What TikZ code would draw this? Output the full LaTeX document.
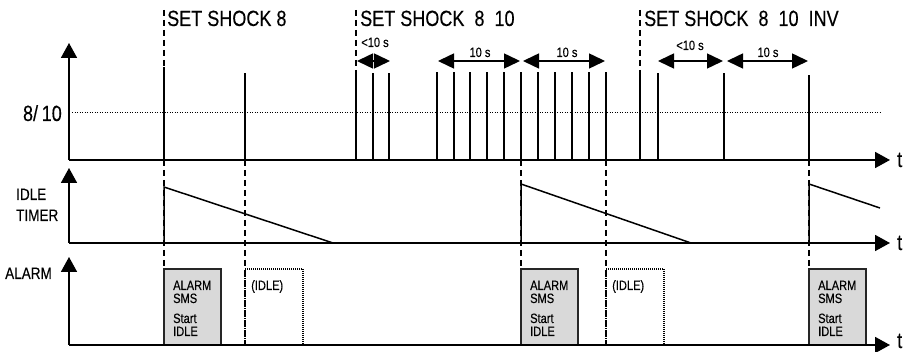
\documentclass[tikz,border=0pt]{standalone}
\usepackage{fontspec}
\setmainfont{Liberation Sans}[FakeStretch=0.82,FakeBold=0.3]
\usetikzlibrary{arrows.meta}
\tikzset{
  axis/.style={line width=1.8pt,-{Triangle[length=15pt,width=16pt]}},
  pulse/.style={line width=1.5pt},
  evt/.style={line width=1.3pt,dash pattern=on 6pt off 4pt},
  span/.style={line width=1.5pt,{Triangle[length=16pt,width=15pt]}-{Triangle[length=16pt,width=15pt]}},
  refline/.style={line width=1pt,dash pattern=on 1pt off 1.5pt},
  alarmbox/.style={draw=black!85,fill=black!15,line width=1.4pt},
  idlebox/.style={draw,line width=1.3pt,dash pattern=on 1pt off 1pt},
  big/.style={inner sep=0pt,font=\fontsize{22}{22}\selectfont},
  mid/.style={inner sep=0pt,font=\fontsize{16.5}{16.5}\selectfont},
  small/.style={inner sep=0pt,font=\fontsize{13.5}{13.5}\selectfont},
  boxtxt/.style={inner sep=0pt,font=\fontsize{13.5}{13.5}\selectfont,anchor=base west},
}
\begin{document}
\begin{tikzpicture}[x=1pt,y=-1pt]
\useasboundingbox (0,0) rectangle (914,352);
% event dashed lines
\draw[evt] (164,10) -- (164,345);
\draw[evt] (245,160) -- (245,345);
\draw[evt] (356,10) -- (356,160);
\draw[evt] (521,160) -- (521,345);
\draw[evt] (606,160) -- (606,345);
\draw[evt] (640,10) -- (640,160);
\draw[evt] (809,160) -- (809,345);
% reference dotted line
\draw[refline] (72,113) -- (880,113);
% pulses
\foreach \px/\py in {164/67,245/73,356/73,373/73,389/73,437/72,454/72,470/72,487/72,504/72,521/72,538/72,555/72,572/72,589/72,606/72,640/73,658/73,724/73,809/75}
  \draw[pulse] (\px,160) -- (\px,\py);
% ramps
\draw[pulse] (164,243) -- (164,187) -- (333,243);
\draw[pulse] (521,243) -- (521,184) -- (691,243);
\draw[pulse] (809,243) -- (809,184) -- (880,208);
% boxes
\foreach \bx in {164,521,809} {
  \draw[alarmbox] (\bx,345) rectangle (\bx+57,269);
  \node[boxtxt] at (\bx+9,290) {ALARM};
  \node[boxtxt] at (\bx+9,303) {SMS};
  \node[boxtxt] at (\bx+9,323) {Start};
  \node[boxtxt] at (\bx+9,336) {IDLE};
}
\foreach \bx in {245,606} {
  \draw[idlebox] (\bx,345) -- (\bx,269) -- (\bx+58,269) -- (\bx+58,345);
  \node[boxtxt] at (\bx+6,290) {(IDLE)};
}
% axes
\coordinate (o1) at (69,160);
\coordinate (o2) at (69,243);
\coordinate (o3) at (69,345);
\coordinate (y1) at (69,43);
\coordinate (y2) at (69,168);
\coordinate (y3) at (69,257);
\coordinate (x1) at (890,160);
\coordinate (x2) at (890,243);
\coordinate (x3) at (890,345);
\draw[axis] (o1) -- (y1);
\draw[axis] (o2) -- (y2);
\draw[axis] (o3) -- (y3);
\draw[axis] (o1) -- (x1);
\draw[axis] (o2) -- (x2);
\draw[axis] (o3) -- (x3);
\node[big,anchor=base west] (t1) at (897,167) {t};
\node[big,anchor=base west] (t2) at (897,250) {t};
\node[big,anchor=base west] (t3) at (897,348) {t};
% axis labels
\node[big,anchor=base east] (lv) at (62,121) {8/\,10};
\node[mid,anchor=base west] (li) at (16,200) {IDLE};
\node[mid,anchor=base west] (lt) at (16,221) {TIMER};
\node[mid,anchor=base west] (la) at (5,279) {ALARM};
% set commands
\node[big,anchor=base west] (s1) at (167,26) {SET SHOCK 8};
\node[big,anchor=base west] (s2) at (360,26) {SET SHOCK\ \ 8\ \ 10};
\node[big,anchor=base west] (s3) at (644,26) {SET SHOCK\ \ 8\ \ 10\ \ INV};
% spans
\coordinate (a1) at (357,61); \coordinate (b1) at (390,61);
\coordinate (a2) at (438,61); \coordinate (b2) at (520,61);
\coordinate (a3) at (523,61); \coordinate (b3) at (605,61);
\coordinate (a4) at (658,61); \coordinate (b4) at (723,61);
\coordinate (a5) at (727,61); \coordinate (b5) at (808,61);
\draw[span] (a1) -- (b1);
\draw[span] (a2) -- (b2);
\draw[span] (a3) -- (b3);
\draw[span] (a4) -- (b4);
\draw[span] (a5) -- (b5);
\node[small,anchor=base] (m1) at (375,47) {<10 s};
\node[small,anchor=base] (m2) at (480,57) {10 s};
\node[small,anchor=base] (m3) at (567,57) {10 s};
\node[small,anchor=base] (m4) at (690,50) {<10 s};
\node[small,anchor=base] (m5) at (768,57) {10 s};
\end{tikzpicture}
\end{document}
